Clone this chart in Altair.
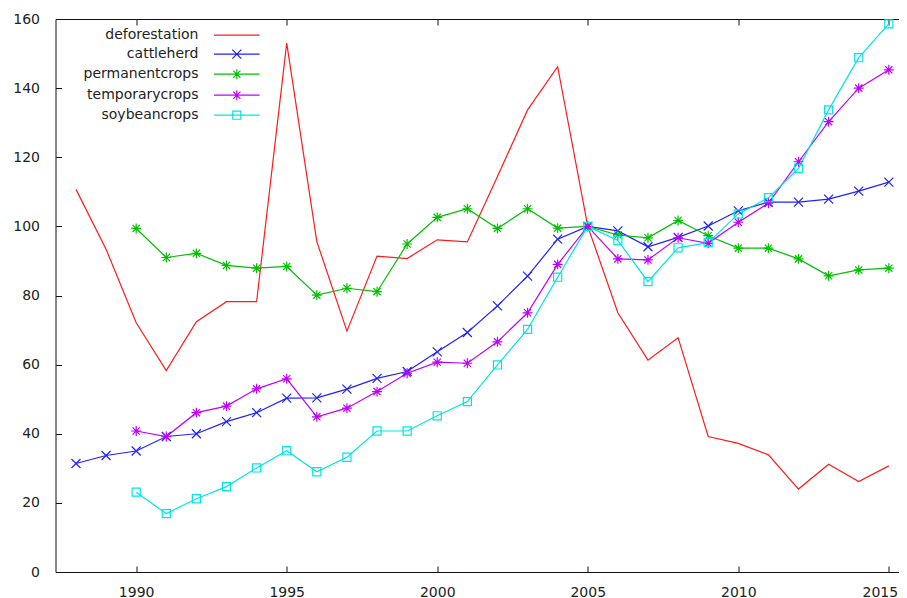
import altair as alt
import pandas as pd

# ---------------- data ----------------
years = list(range(1988, 2016))
series_names = ["deforestation", "cattleherd", "permanentcrops", "temporarycrops", "soybeancrops"]
series_colors = ["#ff1a1a", "#2020ff", "#00c000", "#bf00ff", "#00e5e5"]

deforestation = [110.7, 93.4, 72.1, 58.3, 72.4, 78.2, 78.2, 153.0, 95.6, 69.7, 91.4, 90.7, 96.1, 95.5,
                 114.4, 133.7, 146.2, 100.0, 75.0, 61.3, 67.8, 39.2, 37.2, 33.9, 24.0, 31.2, 26.2, 30.7]
cattleherd = [31.4, 33.7, 35.0, 39.2, 40.0, 43.5, 46.1, 50.3, 50.4, 52.9, 56.0, 58.0, 63.7, 69.3,
              77.0, 85.6, 96.3, 100.0, 98.7, 94.1, 96.8, 100.1, 104.5, 107.0, 107.0, 107.9, 110.2, 112.8]
permanentcrops = [None, None, 99.4, 91.0, 92.2, 88.7, 87.9, 88.4, 80.1, 82.1, 81.1, 94.9, 102.6, 105.1,
                  99.4, 105.1, 99.5, 100.0, 97.5, 96.7, 101.7, 97.3, 93.7, 93.7, 90.6, 85.7, 87.4, 87.9]
temporarycrops = [None, None, 40.8, 39.2, 46.1, 48.0, 53.0, 55.9, 44.9, 47.4, 52.2, 57.5, 60.7, 60.4,
                  66.6, 75.0, 89.0, 100.0, 90.6, 90.3, 96.7, 95.1, 101.2, 106.7, 118.7, 130.3, 140.0, 145.3]
soybeancrops = [None, None, 23.1, 16.9, 21.2, 24.7, 30.1, 35.1, 29.0, 33.2, 40.8, 40.8, 45.2, 49.3,
                59.9, 70.2, 85.3, 100.0, 95.9, 84.0, 93.8, 95.3, 103.6, 108.3, 116.8, 133.7, 148.8, 158.6]

x_ticks = [1990, 1995, 2000, 2005, 2010, 2015]
y_ticks = [0, 20, 40, 60, 80, 100, 120, 140, 160]

all_values = [deforestation, cattleherd, permanentcrops, temporarycrops, soybeancrops]
rows = []
for name, vals in zip(series_names, all_values):
    for yr, v in zip(years, vals):
        if v is not None:
            rows.append({"series": name, "year": yr, "value": v})
df = pd.DataFrame(rows)

# ---------------- marker shapes (gnuplot style) ----------------
X_MARK = "M-1,-1L1,1M-1,1L1,-1"
STAR = "M-1.1,0L1.1,0M0,-1.1L0,1.1M-0.8,-0.8L0.8,0.8M-0.8,0.8L0.8,-0.8"
SQUARE = "M-0.9,-0.9L0.9,-0.9L0.9,0.9L-0.9,0.9Z"
marker_paths = [X_MARK, STAR, STAR, SQUARE]

# legend samples: line + marker drawn to the right of the (right-aligned) label
C = 10.07
LINE = f"M{C-5.07:.2f},0L{C+5.07:.2f},0"
L_X = f"M{C-1},-1L{C+1},1M{C-1},1L{C+1},-1"
L_STAR = (f"M{C-1.1:.2f},0L{C+1.1:.2f},0M{C},-1.1L{C},1.1M{C-0.8:.2f},-0.8L{C+0.8:.2f},0.8"
          f"M{C-0.8:.2f},0.8L{C+0.8:.2f},-0.8")
L_SQ = f"M{C-0.9:.2f},-0.9L{C+0.9:.2f},-0.9L{C+0.9:.2f},0.9L{C-0.9:.2f},0.9Z"
legend_paths = [LINE, LINE + L_X, LINE + L_STAR, LINE + L_STAR, LINE + L_SQ]

x_scale = alt.Scale(domain=[1987.32, 2015.62], nice=False, zero=False)
y_scale = alt.Scale(domain=[0, 160], nice=False)
color_scale = alt.Scale(domain=series_names, range=series_colors)

axis_common = dict(domain=False, grid=False, tickSize=6, offset=-6, tickColor="#111",
                   tickWidth=1, title=None, labelFlush=False)

lines = alt.Chart(df).mark_line(strokeWidth=1.2).encode(
    x=alt.X("year:Q", scale=x_scale,
            axis=alt.Axis(orient="bottom", values=x_ticks, format="d", labelPadding=13,
                          labelOffset={"condition": {"test": "datum.value == 2015", "value": -9},
                                       "value": 0},
                          **axis_common)),
    y=alt.Y("value:Q", scale=y_scale,
            axis=alt.Axis(orient="left", values=y_ticks, format="d", labelPadding=16, **axis_common)),
    color=alt.Color("series:N", scale=color_scale, legend=None),
)

points = alt.Chart(df).transform_filter(alt.datum.series != "deforestation").mark_point(
    filled=False, size=81, strokeWidth=1.2, opacity=1
).encode(
    x=alt.X("year:Q", scale=x_scale,
            axis=alt.Axis(orient="top", values=x_ticks, labels=False, **axis_common)),
    y=alt.Y("value:Q", scale=y_scale,
            axis=alt.Axis(orient="right", values=y_ticks, labels=False, **axis_common)),
    color=alt.Color("series:N", scale=color_scale, legend=None),
    shape=alt.Shape("series:N", scale=alt.Scale(domain=series_names[1:], range=marker_paths), legend=None),
)

legend_props = dict(orient="none", legendX=129, legendY=9.2, title=None, labelAlign="right",
                    labelOffset=0, symbolOffset=0, labelFont="DejaVu Sans", labelFontSize=14,
                    labelColor="#222", rowPadding=5, symbolSize=81, symbolStrokeWidth=1.2,
                    padding=0, labelLimit=400)

legend_layer = alt.Chart(pd.DataFrame({"series": series_names})).transform_filter("false").mark_point(
    filled=False, size=81, strokeWidth=1.2, opacity=1
).encode(
    color=alt.Color("series:N", scale=color_scale, legend=alt.Legend(**legend_props)),
    shape=alt.Shape("series:N", scale=alt.Scale(domain=series_names, range=legend_paths),
                    legend=alt.Legend(**legend_props)),
)

chart = alt.layer(lines, points, legend_layer).resolve_scale(
    color="independent", shape="independent"
).resolve_axis(x="independent", y="independent").properties(
    width=852, height=553,
    padding={"left": 47.5, "top": 11, "right": -8.5, "bottom": 27},
    autosize=alt.AutoSizeParams(type="none"),
    background="white",
).configure_view(stroke="#111", strokeWidth=1).configure_axis(
    labelFont="DejaVu Sans", labelFontSize=14, labelColor="#222"
)

chart.save("out.html", embed_options={"renderer": "svg", "actions": False})
